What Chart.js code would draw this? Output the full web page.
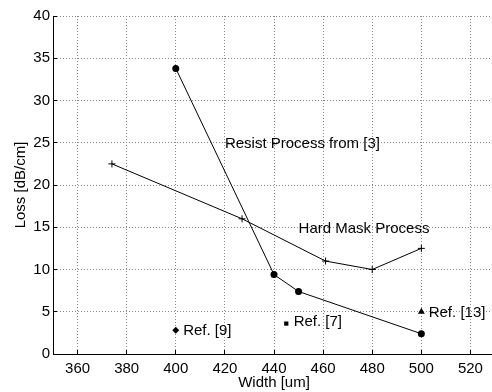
<!DOCTYPE html>
<html>
<head>
<meta charset="utf-8">
<script src="https://cdn.jsdelivr.net/npm/chart.js@4"></script>
<style>
  html, body { margin: 0; padding: 0; background: #fff; overflow: hidden; }
  #wrap { width: 500px; height: 392px; position: relative; }
</style>
</head>
<body>
<div id="wrap"><canvas id="chart_loss"></canvas></div>
<script>
// values
const xTicks = [360, 380, 400, 420, 440, 460, 480, 500, 520];
const resistWidth = [400, 440, 450, 500];
const resistLoss = [33.8, 9.4, 7.4, 2.4];
const hardMaskWidth = [374, 427, 461, 480, 500];
const hardMaskLoss = [22.5, 16.0, 11.0, 10.0, 12.5];
const ref9 = [400, 2.8];
const ref7 = [445, 3.6];
const ref13 = [500, 5.0];
const notes = [
    ['Resist Process from [3]', 420, 24.9],
    ['Hard Mask Process', 450, 14.8],
    ['Ref. [9]', 403, 2.75],
    ['Ref. [7]', 448, 3.75],
    ['Ref. [13]', 503, 4.9]
];

const fontFamily = '"Liberation Sans", Arial, Helvetica, sans-serif';

const notesPlugin = {
    id: 'notes',
    afterDatasetsDraw(chart) {
        const ctx = chart.ctx;
        const xs = chart.scales.x, ys = chart.scales.y;
        ctx.save();
        ctx.fillStyle = '#000';
        ctx.font = '15px ' + fontFamily;
        ctx.textAlign = 'left';
        ctx.textBaseline = 'middle';
        notes.forEach(n => ctx.fillText(n[0], xs.getPixelForValue(n[1]), ys.getPixelForValue(n[2])));
        ctx.restore();
    }
};

const pts = (xs, ys) => xs.map((x, i) => ({ x: x, y: ys[i] }));

new Chart(document.getElementById('chart_loss'), {
    type: 'scatter',
    data: {
        datasets: [
            { data: pts(resistWidth, resistLoss), showLine: true, borderColor: '#000', backgroundColor: '#000', borderWidth: 1, pointStyle: 'circle', pointRadius: 3.5, pointBorderWidth: 0 },
            { data: pts(hardMaskWidth, hardMaskLoss), showLine: true, borderColor: '#000', backgroundColor: '#000', borderWidth: 1, pointStyle: 'cross', pointRadius: 3.5, pointBorderWidth: 1 },
            { data: [{ x: ref9[0], y: ref9[1] }], borderColor: '#000', backgroundColor: '#000', pointStyle: 'rectRot', pointRadius: 3.5, pointBorderWidth: 0 },
            { data: [{ x: ref7[0], y: ref7[1] }], borderColor: '#000', backgroundColor: '#000', pointStyle: 'rect', pointRadius: 3, pointBorderWidth: 0 },
            { data: [{ x: ref13[0], y: ref13[1] }], borderColor: '#000', backgroundColor: '#000', pointStyle: 'triangle', pointRadius: 4, pointBorderWidth: 0 }
        ]
    },
    options: {
        responsive: true,
        maintainAspectRatio: false,
        animation: false,
        layout: { padding: { top: 15, right: 4, left: 0, bottom: 0 } },
        plugins: { legend: { display: false }, tooltip: { enabled: false } },
        scales: {
            x: {
                type: 'linear',
                min: 350,
                max: 530,
                afterBuildTicks: s => { s.ticks = xTicks.map(v => ({ value: v })); },
                afterFit: s => { s.height = 38; },
                grid: { color: '#8a8a8a', lineWidth: 1, tickLength: -4, tickColor: '#000' },
                border: { display: true, color: '#000', width: 1, dash: [1, 2] },
                ticks: { color: '#000', padding: 10, font: { family: fontFamily, size: 15 }, maxRotation: 0 },
                title: { display: true, text: 'Width [um]', color: '#000', font: { family: fontFamily, size: 15 }, padding: { top: 2, bottom: 0 } }
            },
            y: {
                type: 'linear',
                min: 0,
                max: 40,
                ticks: { stepSize: 5, color: '#000', padding: 7, font: { family: fontFamily, size: 15 } },
                afterFit: s => { s.width = 53; },
                grid: { color: '#8a8a8a', lineWidth: 1, tickLength: -4, tickColor: '#000' },
                border: { display: true, color: '#000', width: 1, dash: [1, 2] },
                title: { display: true, text: 'Loss [dB/cm]', color: '#000', font: { family: fontFamily, size: 15 }, padding: { top: 12, bottom: 0 } }
            }
        }
    },
    plugins: [notesPlugin]
});
</script>
</body>
</html>
